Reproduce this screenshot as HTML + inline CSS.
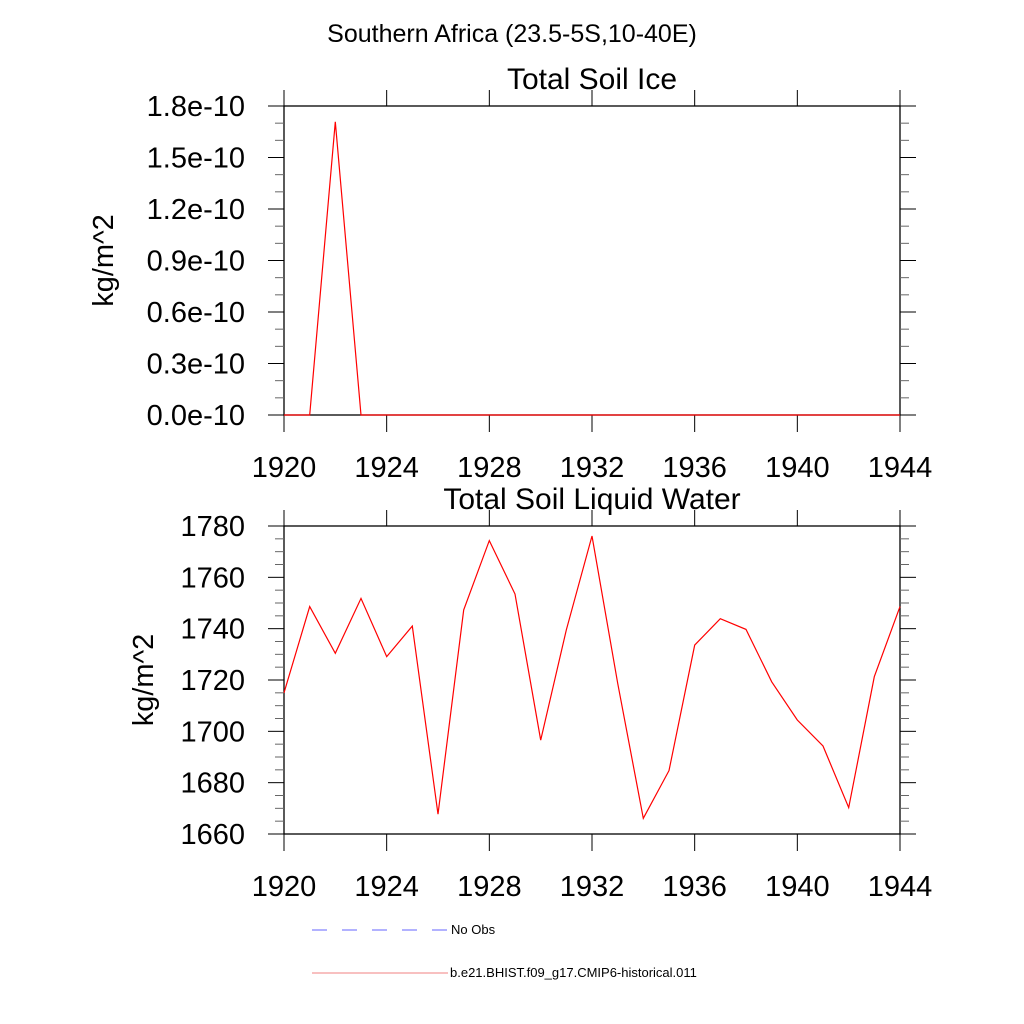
<!DOCTYPE html>
<html><head><meta charset="utf-8"><style>
html,body{margin:0;padding:0;background:#fff}
svg{display:block;font-family:"Liberation Sans",sans-serif}
</style></head><body>
<svg id="chart" width="1024" height="1024" viewBox="0 0 1024 1024">
<text x="512" y="42" font-size="25" text-anchor="middle">Southern Africa (23.5-5S,10-40E)</text>
<g id="p1"></g>
<g id="p2"></g>
<g>
<line x1="312" y1="930" x2="448" y2="930" stroke="#66f" stroke-width="1" stroke-dasharray="15,15"/>
<text x="451" y="934" font-size="13">No Obs</text>
<line x1="312" y1="973" x2="448" y2="973" stroke="#f08080" stroke-width="1"/>
<text x="450" y="977" font-size="13">b.e21.BHIST.f09_g17.CMIP6-historical.011</text>
</g>
</svg>
<script>
const years = [1920,1921,1922,1923,1924,1925,1926,1927,1928,1929,1930,1931,1932,1933,1934,1935,1936,1937,1938,1939,1940,1941,1942,1943,1944];
const iceValues = [0,0,1.708,0,0,0,0,0,0,0,0,0,0,0,0,0,0,0,0,0,0,0,0,0,0];
const liquidValues = [1715,1748.6,1730.4,1751.8,1729.1,1741,1667.7,1747.3,1774.3,1753.5,1696.6,1739.5,1776.1,1718.7,1666.1,1684.7,1733.6,1743.9,1739.7,1719.3,1704.4,1694.3,1670.3,1721.3,1748.6];
const xTicks = [1920,1924,1928,1932,1936,1940,1944];
const iceTicks = [0,0.3,0.6,0.9,1.2,1.5,1.8];
const iceTickLabels = ["0.0e-10","0.3e-10","0.6e-10","0.9e-10","1.2e-10","1.5e-10","1.8e-10"];
const liqTicks = [1660,1680,1700,1720,1740,1760,1780];
const liqTickLabels = ["1660","1680","1700","1720","1740","1760","1780"];
const NS='http://www.w3.org/2000/svg';
function mk(parent,tag,attrs){const e=document.createElementNS(NS,tag);for(const k in attrs)e.setAttribute(k,attrs[k]);parent.appendChild(e);return e;}
function panel(g,cfg){
  const L=284,R=900,T=cfg.top,B=cfg.bottom;
  const xs=v=>L+(v-1920)/(1944-1920)*(R-L);
  const ys=v=>B-(v-cfg.ymin)/(cfg.ymax-cfg.ymin)*(B-T);
  const fr=mk(g,'rect',{x:L,y:T,width:R-L,height:B-T,fill:'none',stroke:'#000','stroke-width':1.3});
  
  
  for(let v=cfg.ymin;v<=cfg.ymax+1e-9;v+=cfg.minor){
    const y=ys(v);
    const isMaj=cfg.yticks.some(t=>Math.abs(t-v)<1e-6);
    const len=isMaj?16:9;
    const a=mk(g,'line',{x1:L-len,y1:y,x2:L,y2:y,stroke:isMaj?'#000':'#666','stroke-width':1});
    
    
    const b=mk(g,'line',{x1:R,y1:y,x2:R+len,y2:y,stroke:isMaj?'#000':'#666','stroke-width':1});
    
    
  }
  cfg.yticks.forEach((t,i)=>{
    const tx=mk(g,'text',{x:cfg.labelRight,y:ys(t)+10,'font-size':29,'text-anchor':'end'});
    tx.textContent=cfg.ylabels[i];
    
    
  });
  xTicks.forEach(t=>{
    const x=xs(t);
    const a=mk(g,'line',{x1:x,y1:T-16,x2:x,y2:T,stroke:'#000','stroke-width':1});
    
    
    const b=mk(g,'line',{x1:x,y1:B,x2:x,y2:B+17,stroke:'#000','stroke-width':1});
    
    
    const tx=mk(g,'text',{x:x,y:B+62,'font-size':29,'text-anchor':'middle'});
    tx.textContent=t;
    
    
  });
  const ti=mk(g,'text',{x:cfg.titleX,y:T-17,'font-size':30,'text-anchor':'middle'});
  ti.textContent=cfg.title;
  
  
  const cy=(T+B)/2;
  const yt=mk(g,'text',{x:cfg.ytitleX,y:cy,'font-size':29,'text-anchor':'middle',transform:`rotate(-90 ${cfg.ytitleX} ${cy})`});
  yt.textContent='kg/m^2';
  
  
  const pts=years.map((y,i)=>xs(y).toFixed(1)+','+ys(cfg.values[i]).toFixed(1)).join(' ');
  const pl=mk(g,'polyline',{points:pts,fill:'none',stroke:'#f00','stroke-width':1.2});
  
  
}
panel(document.getElementById('p1'),{top:106,bottom:415,ymin:0,ymax:1.8,minor:0.1,yticks:iceTicks,ylabels:iceTickLabels,values:iceValues,title:'Total Soil Ice',titleX:592,ytitleX:113,labelRight:245});
panel(document.getElementById('p2'),{top:526,bottom:834,ymin:1660,ymax:1780,minor:5,yticks:liqTicks,ylabels:liqTickLabels,values:liquidValues,title:'Total Soil Liquid Water',titleX:592,ytitleX:153,labelRight:245});
</script>
</body></html>
